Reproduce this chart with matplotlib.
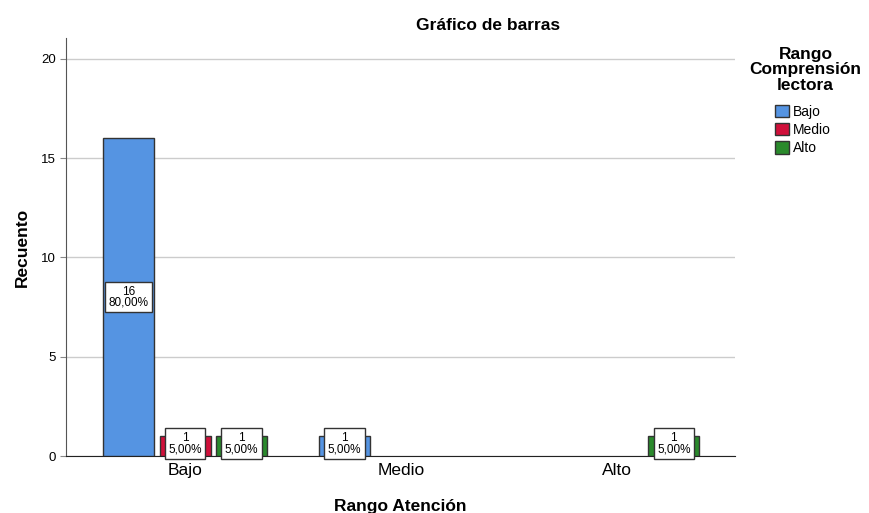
"Grafico de barras: Rango Atencion vs Rango Comprension lectora"
import matplotlib
matplotlib.use('Agg')
import matplotlib.pyplot as plt
import numpy as np

atencion = ['Bajo', 'Medio', 'Alto']
comprension = ['Bajo', 'Medio', 'Alto']
# rows: atencion, cols: comprension
cnt_bajo = [16, 1, 0]
cnt_medio = [1, 0, 0]
cnt_alto = [1, 0, 1]
total = 20
y_ticks = [0, 5, 10, 15, 20]

colors = ['#5594e2', '#d0103a', '#2a8a2c']

plt.rcParams['font.family'] = ['Liberation Sans', 'DejaVu Sans']

fig = plt.figure(figsize=(8.69, 5.13), dpi=100)
ax = fig.add_axes([0.076, 0.111, 0.77, 0.815])

x = np.arange(len(atencion))
width = 0.236
offset = 0.262
series = [cnt_bajo, cnt_medio, cnt_alto]
for k, (vals, name) in enumerate(zip(series, comprension)):
    pos = x + (k - 1) * offset
    vals = np.array(vals, dtype=float)
    keep = vals > 0
    ax.bar(pos[keep], vals[keep], width, color=colors[k], edgecolor='#333333',
           linewidth=1.0, zorder=3)
    # legend handle
    ax.bar([0], [0], 0, color=colors[k], edgecolor='#333333', linewidth=1.0,
           label=name)
    for xp, v in zip(pos, vals):
        if v == 0:
            continue
        pct = ('%.2f' % (100.0 * v / total)).replace('.', ',') + '%'
        ax.text(xp, max(v / 2.0, 0.63), '%d\n%s' % (v, pct),
                ha='center', va='center', fontsize=8.5, linespacing=0.9,
                zorder=5,
                bbox=dict(boxstyle='square,pad=0.3', fc='white',
                          ec='#333333', lw=1.0))

ax.set_xlim(-0.551, 2.546)
ax.set_ylim(0, 21.05)
ax.set_yticks(y_ticks)
ax.set_xticks(x)
ax.set_xticklabels(atencion, fontsize=12.5)
ax.tick_params(axis='y', labelsize=9.5, length=4, color='#888888')
ax.tick_params(axis='x', length=0, pad=5)
ax.grid(axis='y', color='#cccccc', linewidth=1, zorder=0)
for sp in ['top', 'right']:
    ax.spines[sp].set_visible(False)
ax.spines['left'].set_color('#555555')
ax.spines['bottom'].set_color('#222222')

ax.set_ylabel('Recuento', fontsize=12.5, fontweight='bold', labelpad=8)
ax.set_xlabel('Rango Atención', fontsize=12.5, fontweight='bold', labelpad=15)
fig.text(0.562, 0.951, 'Gráfico de barras', ha='center', va='center',
         fontsize=12.5, fontweight='bold')

fig.text(0.927, 0.864, 'Rango\nComprensión\nlectora', ha='center',
         va='center', fontsize=12.5, fontweight='bold', linespacing=1.05)
ax.legend(loc='upper left', bbox_to_anchor=(1.06, 0.84), frameon=False,
          fontsize=10, handlelength=1.0, handleheight=1.0, handletextpad=0.25,
          labelspacing=0.3, borderaxespad=0, borderpad=0)

fig.savefig('out.png', dpi=100)
